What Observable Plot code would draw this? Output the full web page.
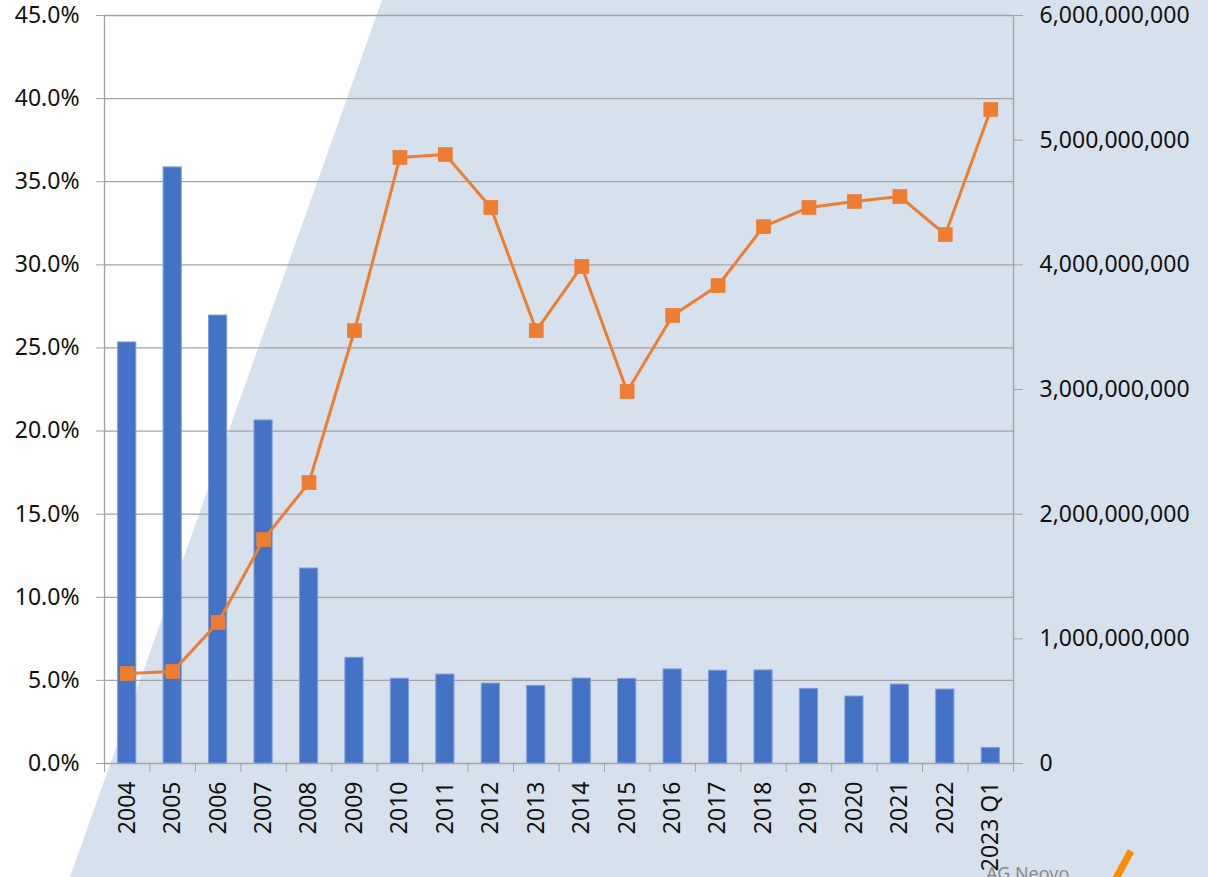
<!DOCTYPE html>
<html>
<head>
<meta charset="utf-8">
<script src="https://cdn.jsdelivr.net/npm/d3@7"></script>
<script src="https://cdn.jsdelivr.net/npm/@observablehq/plot@0.6"></script>
<style>
  html, body { margin: 0; padding: 0; background: #ffffff; }
  #wrap { position: relative; width: 1208px; height: 877px; overflow: hidden; }
  #bg { position: absolute; left: 0; top: 0; width: 1208px; height: 877px; background: #d6e1ed;
        clip-path: polygon(382px 0px, 1208px 0px, 1208px 877px, 70px 877px); }
  #chart { position: absolute; left: 0; top: 0; }
  #deco { position: absolute; left: 0; top: 0; }
</style>
</head>
<body>
<div id="wrap">
  <div id="bg"></div>
  <div id="chart"></div>
  <svg id="deco" width="1208" height="877">
    <text x="986" y="880" font-family="Noto Sans" font-size="18" fill="#8a8a8a">AG Neovo</text>
    <line x1="1131" y1="851" x2="1115" y2="880" stroke="#ff8c00" stroke-width="7"/>
  </svg>
</div>
<script>
const categories = ["2004","2005","2006","2007","2008","2009","2010","2011","2012","2013","2014","2015","2016","2017","2018","2019","2020","2021","2022","2023 Q1"];
const shares = [25.33, 35.86, 26.95, 20.64, 11.73, 6.36, 5.10, 5.35, 4.81, 4.67, 5.11, 5.09, 5.66, 5.58, 5.60, 4.49, 4.03, 4.75, 4.45, 0.94];
const amounts = [0.722e9, 0.738e9, 1.131e9, 1.797e9, 2.254e9, 3.473e9, 4.861e9, 4.885e9, 4.46e9, 3.473e9, 3.987e9, 2.984e9, 3.594e9, 3.834e9, 4.307e9, 4.46e9, 4.508e9, 4.548e9, 4.243e9, 5.246e9];
const leftTicks = [0, 5, 10, 15, 20, 25, 30, 35, 40, 45];
const rightTicks = [0, 1e9, 2e9, 3e9, 4e9, 5e9, 6e9];
const leftMax = 45, rightMax = 6e9;

const toLeft = v => v / rightMax * leftMax;
const data = categories.map((c, i) => ({cat: c, i, share: shares[i], amount: amounts[i]}));
const gray = "#a3a3a3";

const chart = Plot.plot({
  width: 1208,
  height: 877,
  marginLeft: 104,
  marginRight: 195,
  marginTop: 15,
  marginBottom: 114,
  style: {background: "transparent", fontFamily: "Noto Sans", fontSize: "23px", color: "#111111"},
  x: {domain: [0, categories.length]},
  y: {domain: [0, leftMax]},
  marks: [
    Plot.ruleY(leftTicks, {stroke: gray, strokeWidth: 1.3}),
    Plot.ruleX([0, categories.length], {stroke: gray, strokeWidth: 1.3}),
    Plot.axisY({ticks: leftTicks, anchor: "left", label: null, tickSize: 8, tickPadding: 17, stroke: gray, tickFormat: d => d.toFixed(1) + "%", fontSize: 23}),
    Plot.axisY({ticks: rightTicks.map(toLeft), anchor: "right", label: null, tickSize: 9, tickPadding: 17, stroke: gray, tickFormat: d => d3.format(",")(Math.round(d / leftMax * rightMax)), fontSize: 23}),
    Plot.axisX({ticks: d3.range(categories.length + 1), anchor: "bottom", label: null, tickSize: 9, stroke: gray, tickFormat: () => ""}),
    Plot.axisX({ticks: categories.map((c, i) => i + 0.5), anchor: "bottom", label: null, tickSize: 0, tickPadding: 18, tickRotate: -90, tickFormat: d => categories[Math.round(d - 0.5)], fontSize: 23}),
    Plot.rectY(data, {x1: d => d.i + 0.3, x2: d => d.i + 0.7, y1: 0, y2: "share", fill: "#4472c4", stroke: "#7f9ed8", strokeWidth: 1}),
    Plot.line(data, {x: d => d.i + 0.5, y: d => toLeft(d.amount), stroke: "#ed7d31", strokeWidth: 3}),
    Plot.dot(data, {x: d => d.i + 0.5, y: d => toLeft(d.amount), symbol: "square", r: 8.3, fill: "#ed7d31", stroke: "none"})
  ]
});
document.getElementById("chart").appendChild(chart);
</script>
</body>
</html>
